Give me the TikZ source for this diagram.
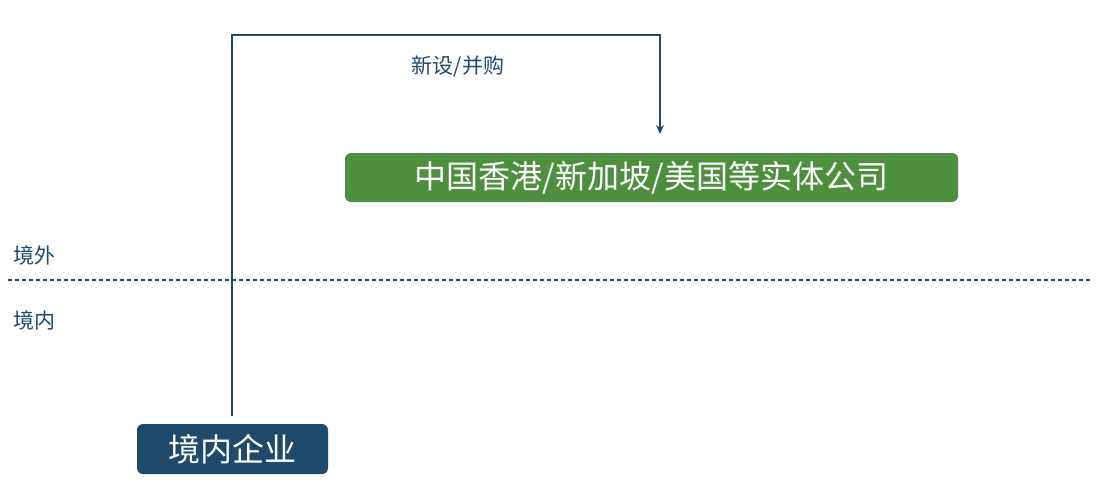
\documentclass[tikz,border=0pt]{standalone}
\usepackage{fontspec}
\usetikzlibrary{arrows.meta}
\setmainfont{Noto Sans CJK SC}
\begin{document}
\begin{tikzpicture}[x=1pt,y=-1pt,
  box/.style={rounded corners=6pt,text=white,inner sep=0pt,font=\fontsize{32}{36}\selectfont},
  lbl/.style={text=navy,font=\fontsize{21}{24}\selectfont}]
\definecolor{navy}{HTML}{1F4A6B}
\definecolor{grn}{HTML}{4E8F3F}
\useasboundingbox (0,0) rectangle (1100,488);
\node[box,fill=grn,minimum width=613pt,minimum height=49pt] (hk) at (651.5,177.5) {中国香港/新加坡/美国等实体公司};
\node[box,fill=navy,minimum width=191pt,minimum height=50pt] (dom) at (232.5,449) {境内企业};
\coordinate (c1) at (232,35);
\coordinate (c2) at (660,35);
\coordinate (tip) at (660,134);
\draw[navy,line width=2.5pt,-{Stealth[length=9pt,width=8pt]}] (dom.north -| c1) ++(0,-8) -- (c1) -- (c2) -- (tip);
\node[lbl] (l) at (458,67) {新设/并购};
\draw[navy,line width=1.3pt,dash pattern=on 4pt off 3pt] (8,280) -- (1092,280);
\node[lbl] (out) at (34,255) {境外};
\node[lbl] (in) at (34,320) {境内};
\end{tikzpicture}
\end{document}
